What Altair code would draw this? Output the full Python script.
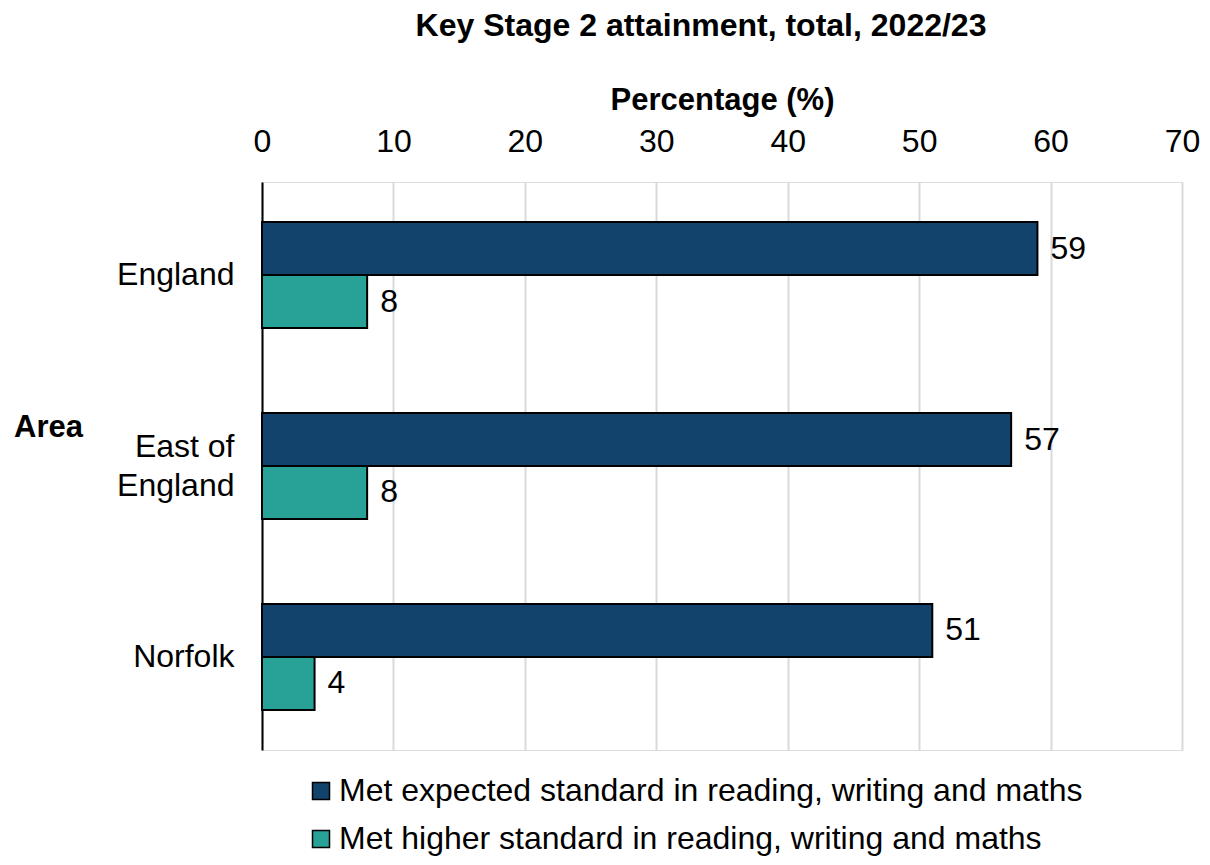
import altair as alt
import pandas as pd

areas = ["England", "East of|England", "Norfolk"]
series = [
    "Met expected standard in reading, writing and maths",
    "Met higher standard in reading, writing and maths",
]
expected = [59, 57, 51]
higher = [8, 8, 4]
colors = ["#12436D", "#28A197"]

rows = []
for a, e, h in zip(areas, expected, higher):
    rows.append({"Area": a, "Series": series[0], "Value": e})
    rows.append({"Area": a, "Series": series[1], "Value": h})
df = pd.DataFrame(rows)

FONT = "Liberation Sans"
FS = 32

y_enc = alt.Y(
    "Area:N",
    sort=areas,
    scale=alt.Scale(paddingInner=0.445, paddingOuter=0.21),
    axis=alt.Axis(
        title="Area",
        titleAngle=0,
        titleX=-214,
        titleY=245,
        titleAlign="center",
        titleBaseline="middle",
        titleFont=FONT,
        titleFontSize=31,
        titleFontWeight="bold",
        titleColor="black",
        labelExpr="split(datum.label, '|')",
        labelFont=FONT,
        labelFontSize=FS,
        labelColor="black",
        labelLineHeight=39,
        labelPadding=28,
        labelAlign="right",
        labelOffset={"condition": {"test": "indexof(datum.value, '|') >= 0", "value": -19}, "value": 0},
        ticks=False,
        domainColor="black",
        domainWidth=2,
        grid=False,
    ),
)
yoff = alt.YOffset("Series:N", sort=series, scale=alt.Scale(paddingInner=0, paddingOuter=0))

x_enc = alt.X(
    "Value:Q",
    scale=alt.Scale(domain=[0, 70]),
    axis=alt.Axis(
        orient="top",
        title="Percentage (%)",
        titleFont=FONT,
        titleFontSize=31,
        titleFontWeight="bold",
        titleColor="black",
        titlePadding=9,
        values=[0, 10, 20, 30, 40, 50, 60, 70],
        labelFont=FONT,
        labelFontSize=FS,
        labelColor="black",
        labelPadding=24,
        labelFlush=False,
        ticks=False,
        domain=False,
        grid=True,
        gridColor="#d9d9d9",
        gridWidth=2,
    ),
)

bars = alt.Chart(df).mark_bar(stroke="black", strokeWidth=2).encode(
    x=x_enc,
    y=y_enc,
    yOffset=yoff,
    color=alt.Color(
        "Series:N",
        sort=series,
        scale=alt.Scale(domain=series, range=colors),
        legend=alt.Legend(
            title=None,
            orient="none",
            legendX=43,
            legendY=593,
            direction="vertical",
            padding=0,
            symbolType="square",
            symbolSize=289,
            symbolStrokeColor="black",
            symbolStrokeWidth=1.5,
            labelFont=FONT,
            labelFontSize=FS,
            labelColor="black",
            labelOffset=2,
            rowPadding=16,
            labelLimit=1000,
        ),
    ),
)

labels = alt.Chart(df).mark_text(
    align="left", baseline="middle", dx=13, font=FONT, fontSize=FS, color="black"
).encode(
    x="Value:Q",
    y=alt.Y("Area:N", sort=areas),
    yOffset=alt.YOffset("Series:N", sort=series),
    text="Value:Q",
)

chart = (
    alt.layer(bars, labels)
    .properties(
        width=920,
        height=568,
        autosize=alt.AutoSizeParams(type="none"),
        padding={"left": 262, "top": 182, "right": 28, "bottom": 115},
        title=alt.TitleParams(
            "Key Stage 2 attainment, total, 2022/23",
            font=FONT,
            fontSize=32,
            fontWeight="bold",
            color="black",
            anchor="middle",
            frame="group",
            dx=-21,
            offset=41,
        ),
    )
    .configure_view(stroke=None, strokeWidth=0)
    .configure(background="white")
)

chart.save("out.html", embed_options={"renderer": "svg", "actions": False})
